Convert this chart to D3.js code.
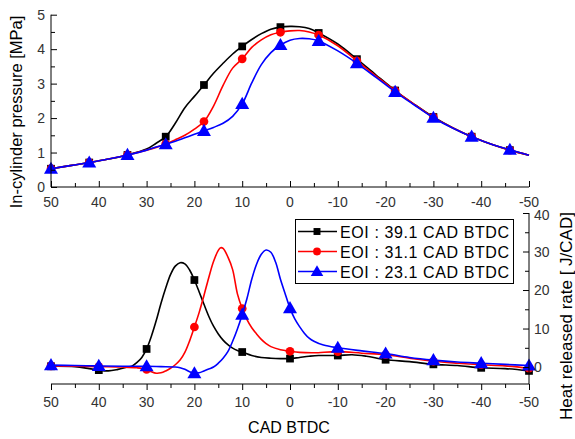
<!DOCTYPE html>
<html>
<head>
<meta charset="utf-8">
<script src="https://cdn.jsdelivr.net/npm/d3@7"></script>
<style>
  body { margin: 0; background: #fff; }
  svg text { font-family: "Liberation Sans", Arial, sans-serif; }
</style>
</head>
<body>
<div id="chart"></div>
<script>
// Series names (legend)
const seriesNames = ["EOI : 39.1 CAD BTDC", "EOI : 31.1 CAD BTDC", "EOI : 23.1 CAD BTDC"];
const seriesColors = ["#000000", "#ff0000", "#0000ff"];

// In-cylinder pressure [MPa]
const pCad = [50, 46, 42, 38, 34, 30, 28, 26, 24, 22, 20, 18, 16, 14, 12, 10, 8, 6, 4, 2, 0, -2, -4, -6, -10, -14, -18, -22, -26, -30, -34, -38, -42, -46, -50];
const pBlack = [0.53, 0.62, 0.71, 0.81, 0.93, 1.10, 1.27, 1.46, 1.85, 2.30, 2.63, 2.96, 3.30, 3.59, 3.86, 4.08, 4.28, 4.45, 4.58, 4.64, 4.66, 4.65, 4.60, 4.47, 4.15, 3.71, 3.25, 2.80, 2.40, 2.03, 1.72, 1.46, 1.25, 1.07, 0.92];
const pRed = [0.53, 0.62, 0.71, 0.81, 0.93, 1.07, 1.15, 1.25, 1.37, 1.50, 1.68, 1.90, 2.35, 2.95, 3.45, 3.72, 4.05, 4.27, 4.42, 4.49, 4.53, 4.54, 4.50, 4.41, 4.10, 3.66, 3.22, 2.79, 2.40, 2.02, 1.72, 1.46, 1.25, 1.07, 0.92];
const pBlue = [0.53, 0.62, 0.71, 0.81, 0.93, 1.07, 1.16, 1.24, 1.33, 1.43, 1.53, 1.63, 1.73, 1.85, 2.05, 2.41, 3.02, 3.55, 3.90, 4.12, 4.26, 4.31, 4.30, 4.24, 3.95, 3.59, 3.18, 2.76, 2.38, 2.01, 1.71, 1.46, 1.25, 1.08, 0.92];
const pMarkerCad = [50, 42, 34, 26, 18, 10, 2, -6, -14, -22, -30, -38, -46];

// Heat released rate [J/CAD]
const hCadBlack = [50, 45, 42, 40, 38, 36, 34, 33, 32, 31, 30, 29, 28, 27, 26, 25, 24, 23, 22, 21, 20, 19, 18, 17, 16, 15, 14, 13, 12, 11, 10, 8, 6, 4, 2, 0, -2, -4, -6, -10, -13, -16, -20, -25, -30, -35, -40, -45, -50];
const hBlack = [0.2, 0.1, -0.4, -0.8, -1.0, -0.6, 0.0, 0.3, 1.2, 2.5, 4.7, 8.0, 12.0, 16.5, 20.5, 24.0, 26.2, 27.1, 26.8, 25.2, 22.6, 19.5, 16.3, 13.2, 10.6, 8.6, 7.0, 5.8, 4.9, 4.3, 3.9, 3.0, 2.5, 2.3, 2.2, 2.2, 2.5, 2.8, 3.0, 3.0, 3.2, 2.8, 1.9, 1.4, 0.7, 0.4, -0.2, -0.4, -1.0];
const hCadRed = [50, 45, 40, 35, 32, 30, 29, 28, 27, 26, 25, 24, 23, 22, 21, 20, 19, 18, 17, 16, 15, 14.5, 14, 13, 12, 11, 10, 9, 8, 7, 6, 5, 4, 2, 0, -2, -5, -10, -15, -20, -25, -30, -35, -40, -45, -50];
const hRed = [0.3, 0.2, 0.1, 0.0, -0.2, -0.6, -1.2, -1.6, -1.5, -1.0, -0.3, 0.6, 1.8, 3.8, 6.8, 10.4, 14.2, 18.6, 23.2, 27.4, 30.3, 31.0, 30.8, 28.6, 25.3, 19.0, 15.2, 12.3, 10.2, 8.6, 7.2, 6.1, 5.3, 4.5, 4.1, 3.8, 3.7, 4.0, 3.6, 3.2, 2.3, 1.5, 1.0, 0.6, 0.3, -0.3];
const hCadBlue = [50, 45, 40, 35, 30, 27, 24, 23, 22, 21, 20, 19, 18, 17, 16, 15, 14, 13, 12, 11, 10, 9, 8, 7, 6, 5, 4, 3, 2, 1, 0, -1, -2, -3, -4, -5, -7, -10, -15, -20, -25, -30, -35, -40, -45, -50];
const hBlue = [0.5, 0.4, 0.3, 0.2, 0.2, 0.1, 0.0, -0.2, -0.6, -1.2, -1.6, -1.5, -1.0, -0.5, 0.0, 1.0, 2.3, 4.0, 6.7, 9.9, 13.6, 17.8, 22.8, 26.7, 29.3, 30.4, 29.8, 27.2, 22.8, 19.0, 15.3, 12.5, 10.5, 8.8, 7.5, 6.7, 5.7, 5.0, 4.2, 3.5, 2.5, 1.8, 1.3, 1.0, 0.7, 0.4];
const hMarkerCad = [50, 40, 30, 20, 10, 0, -10, -20, -30, -40, -50];

const xTicks = [50, 40, 30, 20, 10, 0, -10, -20, -30, -40, -50];
const pTicks = [0, 1, 2, 3, 4, 5];
const hTicks = [0, 10, 20, 30, 40];

const W = 575, H = 439;
const svg = d3.select("#chart").append("svg")
  .attr("width", W).attr("height", H);

const x = d3.scaleLinear().domain([50, -50]).range([51, 529]);
const yP = d3.scaleLinear().domain([0, 5]).range([187, 14.7]);
const yH = d3.scaleLinear().domain([-4.4, 40]).range([384, 213]);

const line = (xs, ys, yScale) => d3.line()
  .x((d, i) => x(xs[i]))
  .y(d => yScale(d))
  .curve(d3.curveCatmullRom.alpha(0.5))(ys);

// marker shapes
const shapes = [d3.symbolSquare, d3.symbolCircle, d3.symbolTriangle];
const sizes = [60, 60, 85];

function drawSeries(g, xs, ys, yScale, markerCad, k) {
  g.append("path")
    .attr("d", line(xs, ys, yScale))
    .attr("fill", "none")
    .attr("stroke", seriesColors[k])
    .attr("stroke-width", 1.6);
  const pts = markerCad.map(c => {
    const i = xs.indexOf(c);
    return [c, ys[i]];
  });
  g.selectAll(null).data(pts).enter().append("path")
    .attr("d", d3.symbol().type(shapes[k]).size(sizes[k]))
    .attr("transform", d => `translate(${x(d[0])},${yScale(d[1]) + (k === 2 ? 1 : 0)})`)
    .attr("fill", seriesColors[k]);
}

// ---------- upper panel: pressure ----------
const upper = svg.append("g");
[pBlack, pRed, pBlue].forEach((ys, k) => drawSeries(upper, pCad, ys, yP, pMarkerCad, k));

// bottom axis of upper panel (ticks inside)
const axTopX = upper.append("g").attr("transform", `translate(0,${yP(0)})`);
axTopX.call(d3.axisTop(x).tickValues(d3.range(50, -51, -5)).tickSize(5).tickFormat(""));
axTopX.call(g => g.selectAll(".tick line").attr("y2", d => d % 10 === 0 ? -6 : -4));
axTopX.call(g => g.select(".domain").attr("d", `M${x(50)},0H${x(-50)}`));
upper.append("g").selectAll("text").data(xTicks).enter().append("text")
  .attr("x", d => x(d)).attr("y", yP(0) + 20)
  .attr("text-anchor", "middle")
  .attr("font-size", 14).attr("fill", "#333")
  .text(d => d);

// left axis of upper panel (ticks inside)
const axTopY = upper.append("g").attr("transform", `translate(${x(50)},0)`);
axTopY.call(d3.axisRight(yP).tickValues(d3.range(0, 5.01, 0.5)).tickFormat(""));
axTopY.call(g => g.selectAll(".tick line").attr("x2", d => d % 1 === 0 ? 6 : 4));
axTopY.call(g => g.select(".domain").attr("d", `M0,${yP(0)}V${yP(5)}`));
upper.append("g").selectAll("text").data(pTicks).enter().append("text")
  .attr("x", x(50) - 6).attr("y", d => yP(d) + 5)
  .attr("text-anchor", "end")
  .attr("font-size", 14).attr("fill", "#333")
  .text(d => d);

svg.append("text")
  .attr("transform", `translate(22,${112}) rotate(-90)`)
  .attr("text-anchor", "middle")
  .attr("font-size", 16.5)
  .text("In-cylinder pressure [MPa]");

// ---------- lower panel: heat release ----------
const lower = svg.append("g");
const hx = [hCadBlack, hCadRed, hCadBlue];
[hBlack, hRed, hBlue].forEach((ys, k) => drawSeries(lower, hx[k], ys, yH, hMarkerCad, k));

const axBotX = lower.append("g").attr("transform", `translate(0,${yH.range()[0]})`);
axBotX.call(d3.axisBottom(x).tickValues(d3.range(50, -51, -5)).tickFormat(""));
axBotX.call(g => g.selectAll(".tick line").attr("y2", d => d % 10 === 0 ? 6 : 4));
axBotX.call(g => g.select(".domain").attr("d", `M${x(50)},0H${x(-50)}`));
lower.append("g").selectAll("text").data(xTicks).enter().append("text")
  .attr("x", d => x(d)).attr("y", yH.range()[0] + 23)
  .attr("text-anchor", "middle")
  .attr("font-size", 14).attr("fill", "#333")
  .text(d => d);

const axBotY = lower.append("g").attr("transform", `translate(${x(-50)},0)`);
axBotY.call(d3.axisLeft(yH).tickValues(d3.range(0, 40.1, 5)).tickFormat(""));
axBotY.call(g => g.selectAll(".tick line").attr("x2", d => d % 10 === 0 ? -6 : -4));
axBotY.call(g => g.select(".domain").attr("d", `M0,${yH.range()[0]}V${yH(40)}`));
lower.append("g").selectAll("text").data(hTicks).enter().append("text")
  .attr("x", x(-50) + 5).attr("y", d => yH(d) + (d === 40 ? 7 : 5))
  .attr("text-anchor", "start")
  .attr("font-size", 14).attr("fill", "#333")
  .text(d => d);

svg.append("text")
  .attr("transform", `translate(572,${316}) rotate(-90)`)
  .attr("text-anchor", "middle")
  .attr("font-size", 17)
  .text("Heat released rate [ J/CAD]");

svg.append("text")
  .attr("x", 289).attr("y", 433)
  .attr("text-anchor", "middle")
  .attr("font-size", 16)
  .text("CAD BTDC");

// ---------- legend ----------
const leg = svg.append("g");
leg.append("rect")
  .attr("x", 295.5).attr("y", 219.5).attr("width", 218).attr("height", 64)
  .attr("fill", "#fff").attr("stroke", "#000").attr("stroke-width", 1);
seriesNames.forEach((name, k) => {
  const yy = 231.5 + k * 20;
  leg.append("line")
    .attr("x1", 298).attr("x2", 337).attr("y1", yy).attr("y2", yy)
    .attr("stroke", seriesColors[k]).attr("stroke-width", 1.6);
  leg.append("path")
    .attr("d", d3.symbol().type(shapes[k]).size(sizes[k] * 0.8))
    .attr("transform", `translate(317,${yy + (k === 2 ? 1 : 0)})`)
    .attr("fill", seriesColors[k]);
  leg.append("text")
    .attr("x", 340).attr("y", yy + 6)
    .attr("font-size", 16)
    .attr("letter-spacing", 0.6)
    .text(name);
});
</script>
</body>
</html>
